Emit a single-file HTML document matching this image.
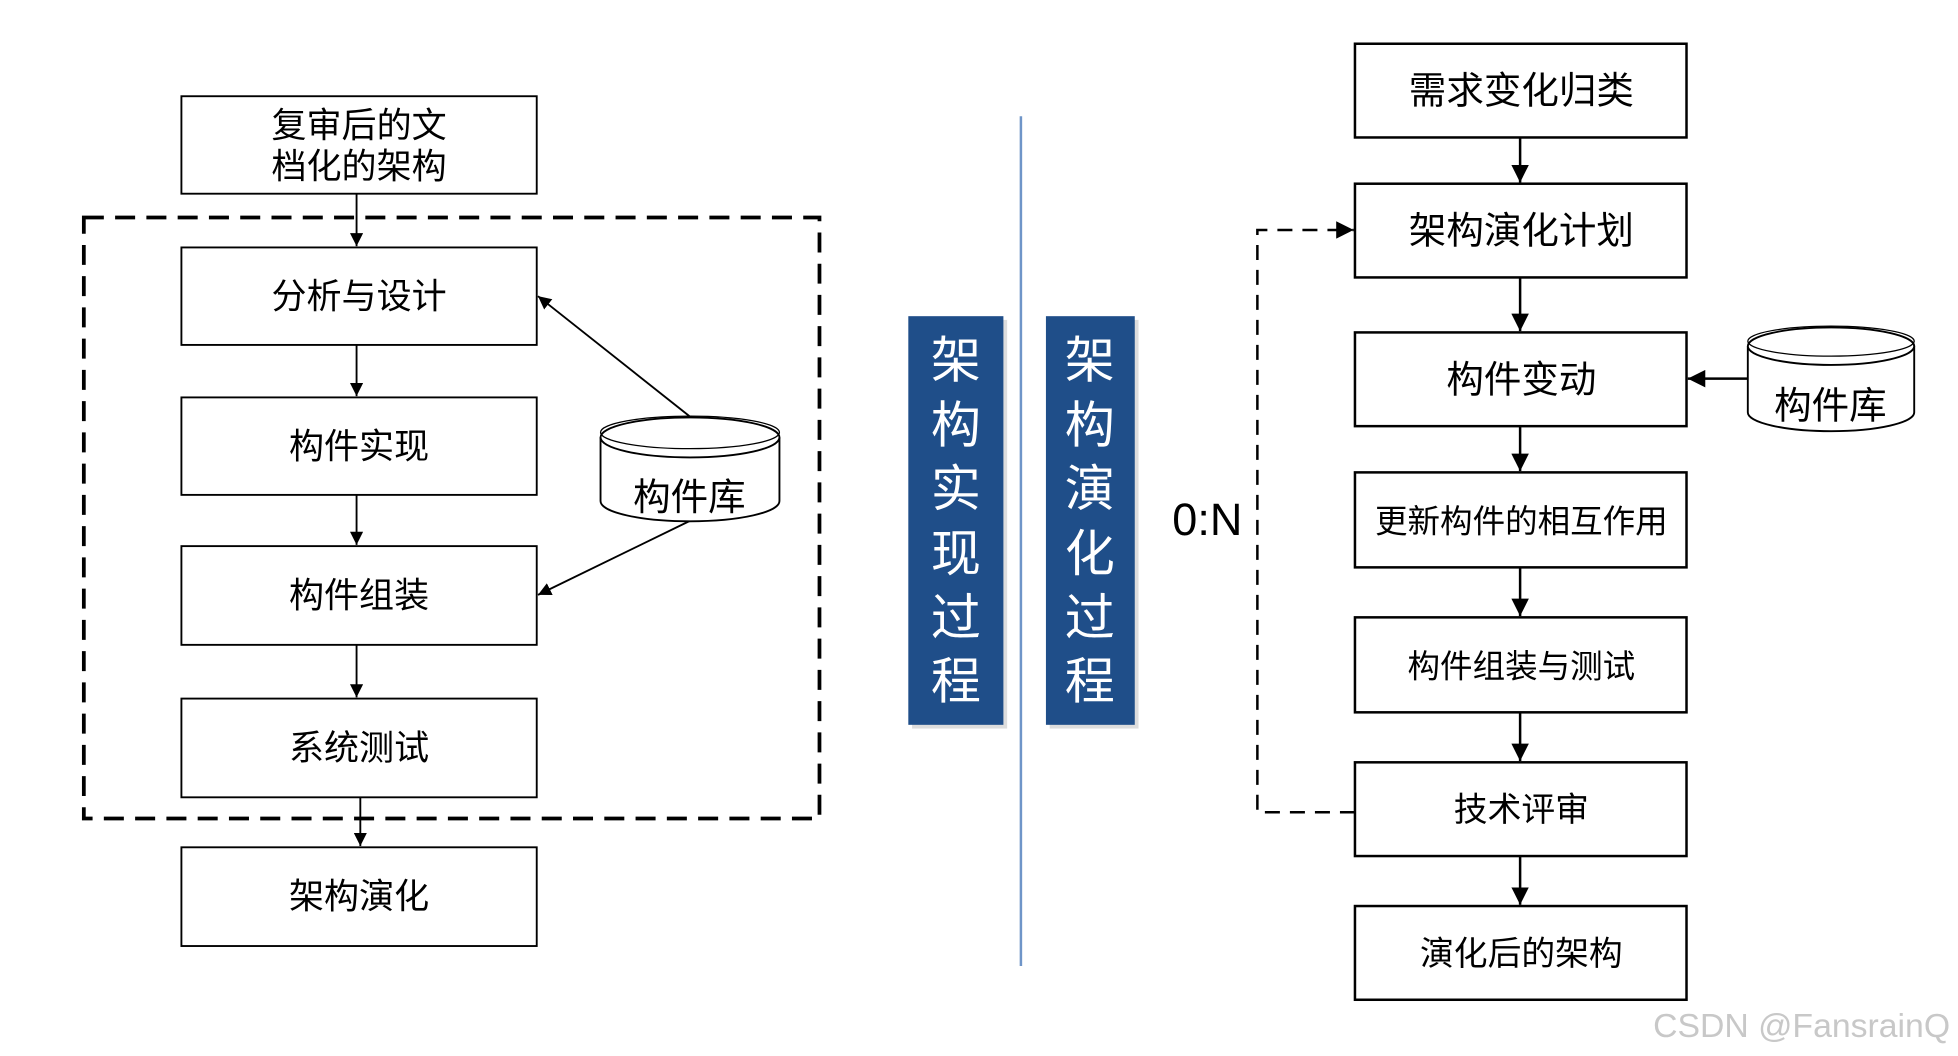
<!DOCTYPE html>
<html><head><meta charset="utf-8"><style>
html,body{margin:0;padding:0;background:#fff;}
svg{display:block;}
text{font-family:"Liberation Sans","Noto Sans CJK SC",sans-serif;}
</style></head><body>
<svg width="1958" height="1056" viewBox="0 0 1565 845" preserveAspectRatio="none" xmlns="http://www.w3.org/2000/svg">
<defs>
<marker id="a" viewBox="0 0 10 10" refX="10" refY="5" markerWidth="7" markerHeight="7" orient="auto-start-reverse"><path d="M0,0 L10,5 L0,10 z" fill="#000"/></marker>
</defs>
<rect width="1565" height="845" fill="#fff"/>
<g fill="#fff" stroke="#000" stroke-width="1.5">
<rect x="145" y="77" width="284" height="78"/>
<rect x="145" y="198" width="284" height="78"/>
<rect x="145" y="318" width="284" height="78"/>
<rect x="145" y="437" width="284" height="79"/>
<rect x="145" y="559" width="284" height="79"/>
<rect x="145" y="678" width="284" height="79"/>
</g>
<rect x="67" y="174" width="588" height="481" fill="none" stroke="#000" stroke-width="3" stroke-dasharray="16,9"/>
<g stroke="#000" stroke-width="1.5" marker-end="url(#a)">
<line x1="285" y1="155" x2="285" y2="197"/>
<line x1="285" y1="276" x2="285" y2="317"/>
<line x1="285" y1="396" x2="285" y2="436"/>
<line x1="285" y1="516" x2="285" y2="558"/>
<line x1="288" y1="638" x2="288" y2="677"/>
<line x1="551" y1="333" x2="430" y2="237"/>
<line x1="551" y1="417" x2="430" y2="476"/>
</g>
<g font-size="28" text-anchor="middle" fill="#000">
<text x="287" y="110">复审后的文</text>
<text x="287" y="143">档化的架构</text>
<text x="287" y="247">分析与设计</text>
<text x="287" y="367">构件实现</text>
<text x="287" y="486">构件组装</text>
<text x="287" y="608">系统测试</text>
<text x="287" y="727">架构演化</text>
</g>
<path d="M480,350 L480,401 A71,16 0 0 0 623,401 L623,350" fill="#fff" stroke="#000" stroke-width="1.5"/>
<ellipse cx="551.5" cy="350" rx="71.5" ry="16" fill="#fff" stroke="#000" stroke-width="1.5"/>
<ellipse cx="551.5" cy="346" rx="71.5" ry="13" fill="none" stroke="#000" stroke-width="1"/>
<text x="551" y="408" font-size="30" text-anchor="middle">构件库</text>
<rect x="729" y="256" width="76" height="327" fill="#bbb" opacity=".5"/>
<rect x="726" y="253" width="76" height="327" fill="#1f4e89"/>
<rect x="839" y="256" width="71" height="327" fill="#bbb" opacity=".5"/>
<rect x="836" y="253" width="71" height="327" fill="#1f4e89"/>
<g font-size="40" fill="#fff" text-anchor="middle">
<text x="764" y="302">架</text><text x="764" y="354">构</text><text x="764" y="405">实</text><text x="764" y="457">现</text><text x="764" y="508">过</text><text x="764" y="559">程</text>
<text x="871" y="302">架</text><text x="871" y="354">构</text><text x="871" y="405">演</text><text x="871" y="457">化</text><text x="871" y="508">过</text><text x="871" y="559">程</text>
</g>
<line x1="816" y1="93" x2="816" y2="773" stroke="#6f95c8" stroke-width="2"/>
<g fill="#fff" stroke="#000" stroke-width="2">
<rect x="1083" y="35" width="265" height="75"/>
<rect x="1083" y="147" width="265" height="75"/>
<rect x="1083" y="266" width="265" height="75"/>
<rect x="1083" y="378" width="265" height="76"/>
<rect x="1083" y="494" width="265" height="76"/>
<rect x="1083" y="610" width="265" height="75"/>
<rect x="1083" y="725" width="265" height="75"/>
</g>
<g stroke="#000" stroke-width="2" marker-end="url(#a)">
<line x1="1215" y1="110" x2="1215" y2="146"/>
<line x1="1215" y1="222" x2="1215" y2="265"/>
<line x1="1215" y1="341" x2="1215" y2="377"/>
<line x1="1215" y1="454" x2="1215" y2="493"/>
<line x1="1215" y1="570" x2="1215" y2="609"/>
<line x1="1215" y1="685" x2="1215" y2="724"/>
<line x1="1397" y1="303" x2="1349" y2="303"/>
</g>
<path d="M1083,650 L1005,650 L1005,184 L1082,184" fill="none" stroke="#000" stroke-width="2" stroke-dasharray="12,8" marker-end="url(#a)"/>
<g font-size="30" text-anchor="middle" fill="#000">
<text x="1216" y="83">需求变化归类</text>
<text x="1216" y="195">架构演化计划</text>
<text x="1216" y="314">构件变动</text>
<text x="1216" y="426" font-size="26">更新构件的相互作用</text>
<text x="1216" y="542" font-size="26">构件组装与测试</text>
<text x="1216" y="657" font-size="27">技术评审</text>
<text x="1216" y="772" font-size="27">演化后的架构</text>
</g>
<path d="M1397,277 L1397,330 A66.5,15 0 0 0 1530,330 L1530,277" fill="#fff" stroke="#000" stroke-width="1.5"/>
<ellipse cx="1463.5" cy="277" rx="66.5" ry="15" fill="#fff" stroke="#000" stroke-width="1.5"/>
<ellipse cx="1463.5" cy="273" rx="66.5" ry="12" fill="none" stroke="#000" stroke-width="1"/>
<text x="1463" y="335" font-size="30" text-anchor="middle">构件库</text>
<text x="965" y="428" font-size="36" text-anchor="middle">0:N</text>
<text x="1440" y="830" font-size="27" text-anchor="middle" fill="#c8c8c8">CSDN @FansrainQ</text>
</svg>
</body></html>
